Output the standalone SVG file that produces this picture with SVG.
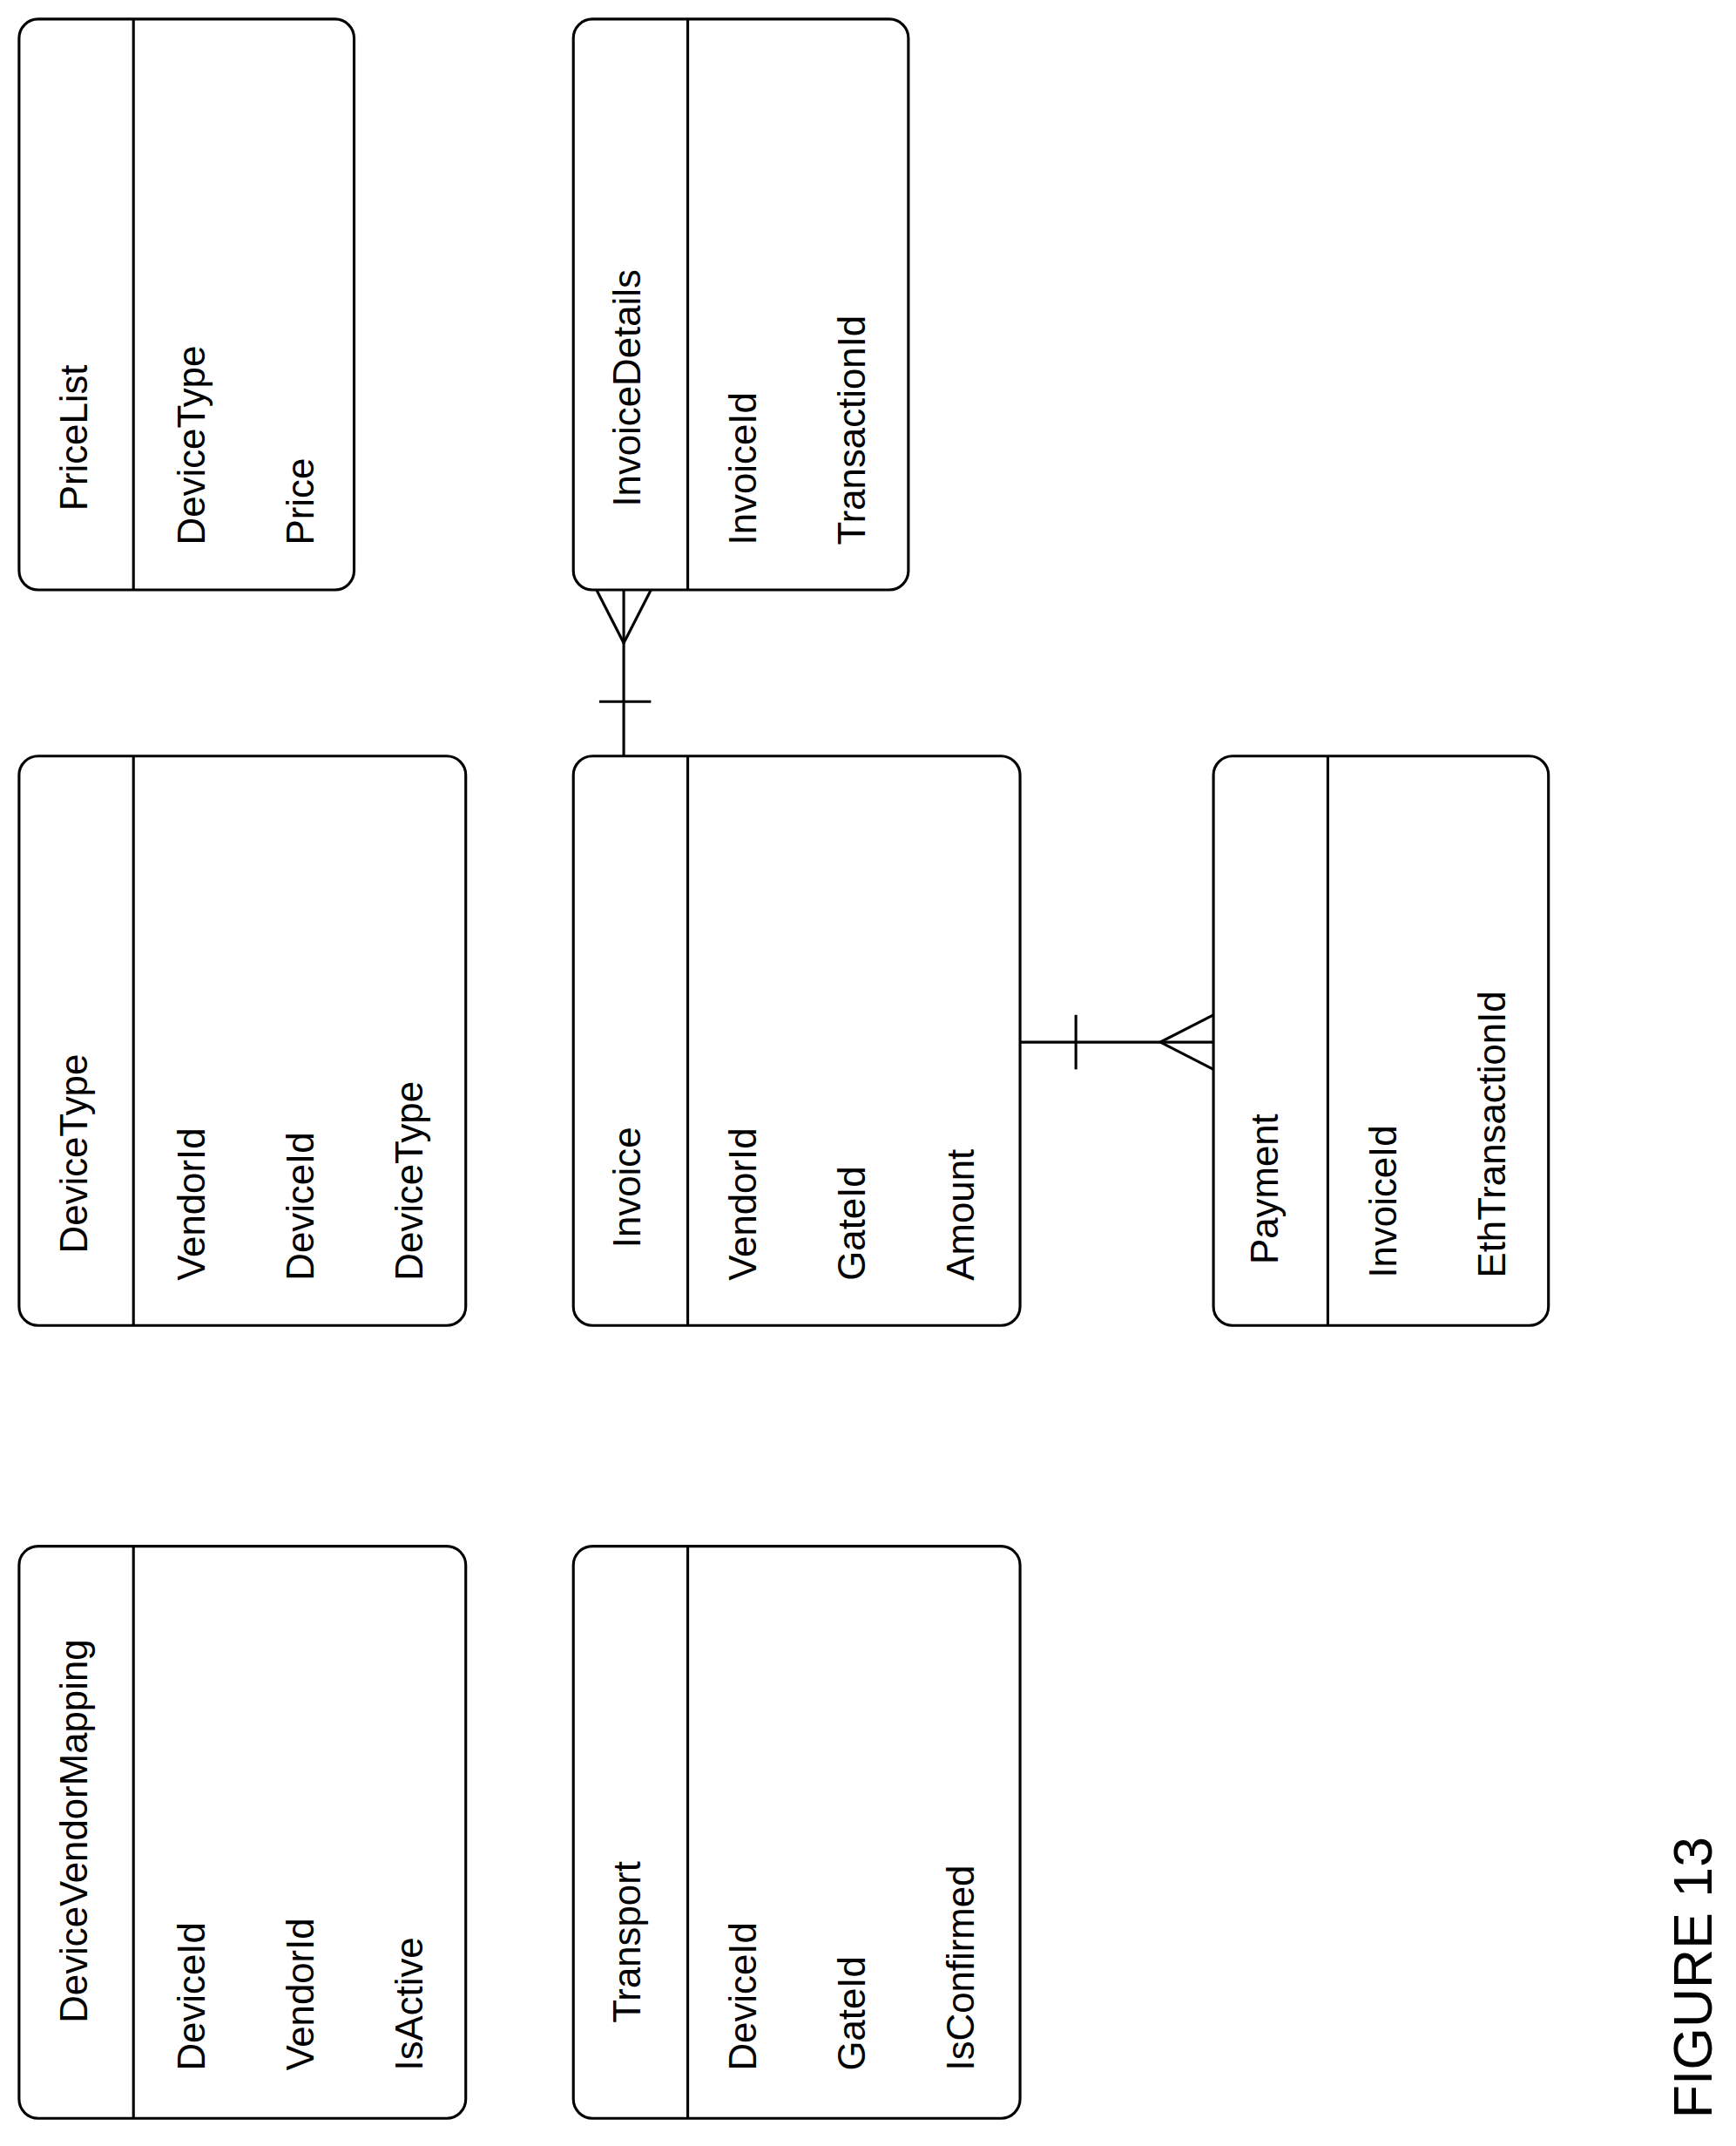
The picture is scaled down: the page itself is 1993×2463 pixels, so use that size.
<svg xmlns="http://www.w3.org/2000/svg" width="1993" height="2463" viewBox="0 0 1993 2463">
<style>
.b{fill:#fff;stroke:#000;stroke-width:2}
.l{stroke:#000;stroke-width:2;fill:none}
text{font-family:"Liberation Sans",Arial,sans-serif;font-size:28px;fill:#000;text-anchor:start}
.f{font-size:40px}
</style>
<rect width="1993" height="2463" fill="#fff"/>
<g transform="scale(1.5635)">
<g id="PriceList"><rect class="b" x="14" y="14" width="246" height="419" rx="14"/><line class="l" x1="98" y1="14" x2="98" y2="433"/>
<text transform="translate(64,375) rotate(-90)">PriceList</text>
<text transform="translate(150,400) rotate(-90)">DeviceType</text>
<text transform="translate(230,400) rotate(-90)">Price</text></g>
<g id="DeviceType"><rect class="b" x="14" y="555" width="328" height="418" rx="14"/><line class="l" x1="98" y1="555" x2="98" y2="973"/>
<text transform="translate(64,920) rotate(-90)">DeviceType</text>
<text transform="translate(150,940) rotate(-90)">VendorId</text>
<text transform="translate(230,940) rotate(-90)">DeviceId</text>
<text transform="translate(310,940) rotate(-90)">DeviceType</text></g>
<g id="DeviceVendorMapping"><rect class="b" x="14" y="1135" width="328" height="420" rx="14"/><line class="l" x1="98" y1="1135" x2="98" y2="1555"/>
<text transform="translate(64,1485) rotate(-90)">DeviceVendorMapping</text>
<text transform="translate(150,1520) rotate(-90)">DeviceId</text>
<text transform="translate(230,1520) rotate(-90)">VendorId</text>
<text transform="translate(310,1520) rotate(-90)">IsActive</text></g>
<g id="InvoiceDetails"><rect class="b" x="421" y="14" width="246" height="419" rx="14"/><line class="l" x1="505" y1="14" x2="505" y2="433"/>
<text transform="translate(470,372) rotate(-90)">InvoiceDetails</text>
<text transform="translate(555,400) rotate(-90)">InvoiceId</text>
<text transform="translate(635,400) rotate(-90)">TransactionId</text></g>
<g id="Invoice"><rect class="b" x="421" y="555" width="328" height="418" rx="14"/><line class="l" x1="505" y1="555" x2="505" y2="973"/>
<text transform="translate(470,916) rotate(-90)">Invoice</text>
<text transform="translate(555,940) rotate(-90)">VendorId</text>
<text transform="translate(635,940) rotate(-90)">GateId</text>
<text transform="translate(715,940) rotate(-90)">Amount</text></g>
<g id="Transport"><rect class="b" x="421" y="1135" width="328" height="420" rx="14"/><line class="l" x1="505" y1="1135" x2="505" y2="1555"/>
<text transform="translate(470,1485) rotate(-90)">Transport</text>
<text transform="translate(555,1520) rotate(-90)">DeviceId</text>
<text transform="translate(635,1520) rotate(-90)">GateId</text>
<text transform="translate(715,1520) rotate(-90)">IsConfirmed</text></g>
<g id="Payment"><rect class="b" x="891" y="555" width="246" height="418" rx="14"/><line class="l" x1="975" y1="555" x2="975" y2="973"/>
<text transform="translate(938,928) rotate(-90)">Payment</text>
<text transform="translate(1025,938) rotate(-90)">InvoiceId</text>
<text transform="translate(1105,938) rotate(-90)">EthTransactionId</text></g>
<g id="connectors">
<line class="l" x1="458" y1="433" x2="458" y2="555"/>
<line class="l" x1="440" y1="515" x2="478" y2="515"/>
<polyline class="l" points="438,433 458,472 478,433"/>
<line class="l" x1="749" y1="765" x2="891" y2="765"/>
<line class="l" x1="790" y1="745" x2="790" y2="785"/>
<polyline class="l" points="891,745 852,765 891,785"/>
</g>
<text class="f" transform="translate(1257,1555) rotate(-90)">FIGURE 13</text>
</g>
</svg>
